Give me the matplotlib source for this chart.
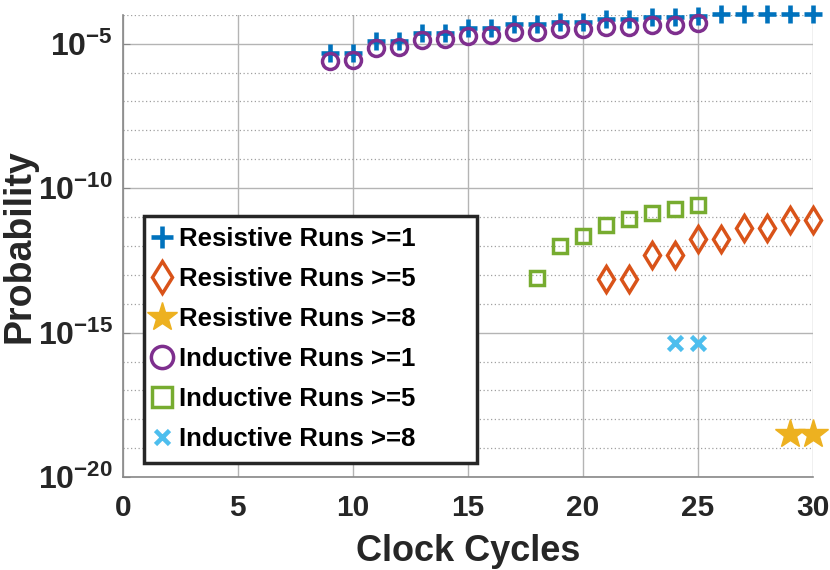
import numpy as np
import matplotlib
matplotlib.use('Agg')
import matplotlib.pyplot as plt

plt.rcParams['font.family'] = ['Liberation Sans', 'DejaVu Sans']
plt.rcParams['font.weight'] = 'bold'
plt.rcParams['mathtext.fontset'] = 'custom'
plt.rcParams['mathtext.bf'] = 'Liberation Sans:bold'
plt.rcParams['mathtext.rm'] = 'Liberation Sans:bold'

# clock cycles and log10(probability)
res1_x = list(range(9, 31))
res1_log = [-5.31, -5.31, -4.90, -4.90, -4.62, -4.62, -4.47, -4.47, -4.32, -4.32, -4.24,
            -4.24, -4.15, -4.15, -4.07, -4.07, -4.03, -3.96, -3.96, -3.96, -3.96, -3.96]
res5_x = list(range(21, 31))
res5_log = [-13.14, -13.14, -12.31, -12.31, -11.77, -11.77, -11.39, -11.39, -11.10, -11.10]
res8_x = [29, 30]
res8_log = [-18.51, -18.51]
ind1_x = list(range(9, 26))
ind1_log = [-5.60, -5.56, -5.16, -5.10, -4.87, -4.85, -4.72, -4.70, -4.59, -4.61,
            -4.50, -4.49, -4.41, -4.41, -4.35, -4.35, -4.27]
ind5_x = list(range(18, 26))
ind5_log = [-13.12, -12.00, -11.64, -11.29, -11.07, -10.87, -10.72, -10.58]
ind8_x = [24, 25]
ind8_log = [-15.37, -15.37]

fig = plt.figure(figsize=(8.3, 5.7), dpi=100)
ax = fig.add_axes([0.148, 0.163, 0.831, 0.811])

c_blue = '#0072BD'
c_orange = '#D95319'
c_yellow = '#EDB120'
c_purple = '#7E2F8E'
c_green = '#77AC30'
c_cyan = '#4DBEEE'

ax.plot(res1_x, 10.0 ** np.array(res1_log), '+', color=c_blue, ms=13.5, mew=3.3,
        label='Resistive Runs >=1', clip_on=False, zorder=3)
ax.plot(res5_x, 10.0 ** np.array(res5_log), 'd', color=c_orange, ms=13, mew=2.5,
        mfc='none', label='Resistive Runs >=5', clip_on=False, zorder=3)
ax.plot(res8_x, 10.0 ** np.array(res8_log), '*', color=c_yellow, ms=22, mew=1,
        label='Resistive Runs >=8', clip_on=False, zorder=3)
ax.plot(ind1_x, 10.0 ** np.array(ind1_log), 'o', color=c_purple, ms=11.5, mew=2.5,
        mfc='none', label='Inductive Runs >=1', clip_on=False, zorder=3)
ax.plot(ind5_x, 10.0 ** np.array(ind5_log), 's', color=c_green, ms=10, mew=2.5,
        mfc='none', label='Inductive Runs >=5', clip_on=False, zorder=3)
ax.plot(ind8_x, 10.0 ** np.array(ind8_log), 'x', color=c_cyan, ms=10, mew=3.3,
        label='Inductive Runs >=8', clip_on=False, zorder=3)

ax.set_yscale('log')
ax.set_xlim(0, 30)
ax.set_ylim(1e-20, 1e-4)
ax.set_xticks([0, 5, 10, 15, 20, 25, 30])
ax.set_yticks([1e-20, 1e-15, 1e-10, 1e-5])
ax.set_yticklabels(['$\\mathbf{10^{-20}}$', '$\\mathbf{10^{-15}}$',
                    '$\\mathbf{10^{-10}}$', '$\\mathbf{10^{-5}}$'])
ax.set_yticks([10.0 ** k for k in range(-19, -3) if k % 5 != 0], minor=True)
ax.yaxis.set_minor_formatter(plt.NullFormatter())

ax.grid(True, which='major', color='#b4b4b4', lw=1.0)
ax.grid(True, which='minor', axis='y', color='#a0a0a0', lw=0.9, ls=(0, (1, 2)))
ax.set_axisbelow(True)

for s in ['top', 'right']:
    ax.spines[s].set_visible(False)
for s in ['left', 'bottom']:
    ax.spines[s].set_color('#888888')
    ax.spines[s].set_linewidth(1.2)

ax.tick_params(which='both', length=0, colors='#262626')
ax.tick_params(axis='x', labelsize=21.5, pad=12)
ax.tick_params(axis='y', which='major', labelsize=23, pad=7, length=5,
               color='#888888', direction='in')

ax.set_xlabel('Clock Cycles', fontsize=26, fontweight='bold', color='#262626', labelpad=9)
ax.set_ylabel('Probability', fontsize=27, fontweight='bold', color='#262626')
ax.yaxis.set_label_coords(-0.124, 0.5)

leg_w = 0.4826
leg = ax.legend(loc='upper left', bbox_to_anchor=(0.0304, 0.065, leg_w, 0.5),
                mode='expand', fontsize=18.5,
                frameon=True, fancybox=False, edgecolor='#262626', framealpha=1,
                handletextpad=0.41, handlelength=0.5, borderpad=0.45, labelspacing=0.62,
                borderaxespad=0)
leg.get_frame().set_linewidth(2.5)
for t in leg.get_texts():
    t.set_fontweight('bold')
    t.set_color('black')
for h, s in zip(leg.legend_handles, [16, 16.5, 22, 16, 14, 10.5]):
    h.set_markersize(s)

fig.savefig('out.png', dpi=100)
